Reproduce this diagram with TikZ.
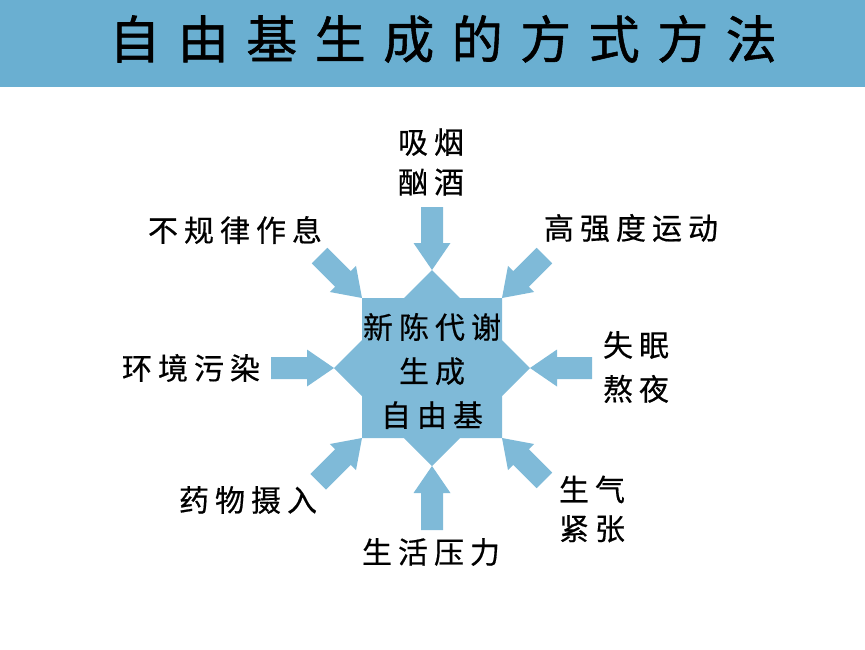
\documentclass[tikz,border=0pt]{standalone}
\usepackage{fontspec}
\newfontfamily\cjk[FakeBold=0.5]{Noto Sans CJK SC}
\newfontfamily\cjkt[FakeBold=1.1]{Noto Sans CJK SC}
\definecolor{band}{RGB}{106,175,209}
\definecolor{arr}{RGB}{127,186,216}
\newcommand\gp{\hspace{6pt}}
\newcommand\tg{\hspace{17.5pt}}
% block arrow: tip coordinate, direction angle, total length
\newcommand\blockarrow[3]{%
  \fill[arr,shift={(#1)},rotate=#2] (0,0) -- (-27,-18.5) -- (-27,-11) -- (-#3,-11)
     -- (-#3,11) -- (-27,11) -- (-27,18.5) -- cycle;}
\begin{document}
\begin{tikzpicture}[x=1pt,y=-1pt,
  lbl/.style={font=\cjk\fontsize{30}{40}\selectfont, inner sep=0pt, align=center, text=black}]
\useasboundingbox (0,0) rectangle (865,649);
\fill[band] (0,0) rectangle (865,87);
\node[font=\cjkt\fontsize{51}{60}\selectfont, inner sep=0pt] (title) at (443,39)
  {自\tg 由\tg 基\tg 生\tg 成\tg 的\tg 方\tg 式\tg 方\tg 法};

% central star
\fill[arr] (362,298) -- (404,298) -- (432,270) -- (460,298) -- (502,298) -- (502,340)
  -- (530,368) -- (502,396) -- (502,438) -- (460,438) -- (432,466) -- (404,438)
  -- (362,438) -- (362,396) -- (334,368) -- (362,340) -- cycle;
\node[lbl, font=\cjk\fontsize{30}{44}\selectfont] (core) at (432,371) {新\gp 陈\gp 代\gp 谢\\生\gp 成\\自\gp 由\gp 基};

\coordinate (pT) at (432,270);
\coordinate (pR) at (530,368);
\coordinate (pB) at (432,466);
\coordinate (pL) at (334,368);
\coordinate (cTL) at (362,298);
\coordinate (cTR) at (502,298);
\coordinate (cBL) at (362,438);
\coordinate (cBR) at (502,438);

% labels
\node[lbl] (smoke) at (431,162) {吸\gp 烟\\酗\gp 酒};
\node[lbl] (irreg) at (235,230) {不\gp 规\gp 律\gp 作\gp 息};
\node[lbl] (sport) at (631,228) {高\gp 强\gp 度\gp 运\gp 动};
\node[lbl] (env) at (191,368) {环\gp 境\gp 污\gp 染};
\node[lbl, font=\cjk\fontsize{30}{44}\selectfont] (sleep) at (636,367) {失\gp 眠\\熬\gp 夜};
\node[lbl] (drug) at (248,500) {药\gp 物\gp 摄\gp 入};
\node[lbl] (stress) at (431,552) {生\gp 活\gp 压\gp 力};
\node[lbl, font=\cjk\fontsize{30}{39}\selectfont] (anger) at (592,509) {生\gp 气\\紧\gp 张};

% arrows
\blockarrow{pT}{-90}{63}
\blockarrow{pR}{180}{62}
\blockarrow{pB}{90}{64}
\blockarrow{pL}{0}{63}
\blockarrow{cTL}{-45}{60}
\blockarrow{cTR}{-135}{60}
\blockarrow{cBL}{45}{62}
\blockarrow{cBR}{135}{60}
\end{tikzpicture}
\end{document}
